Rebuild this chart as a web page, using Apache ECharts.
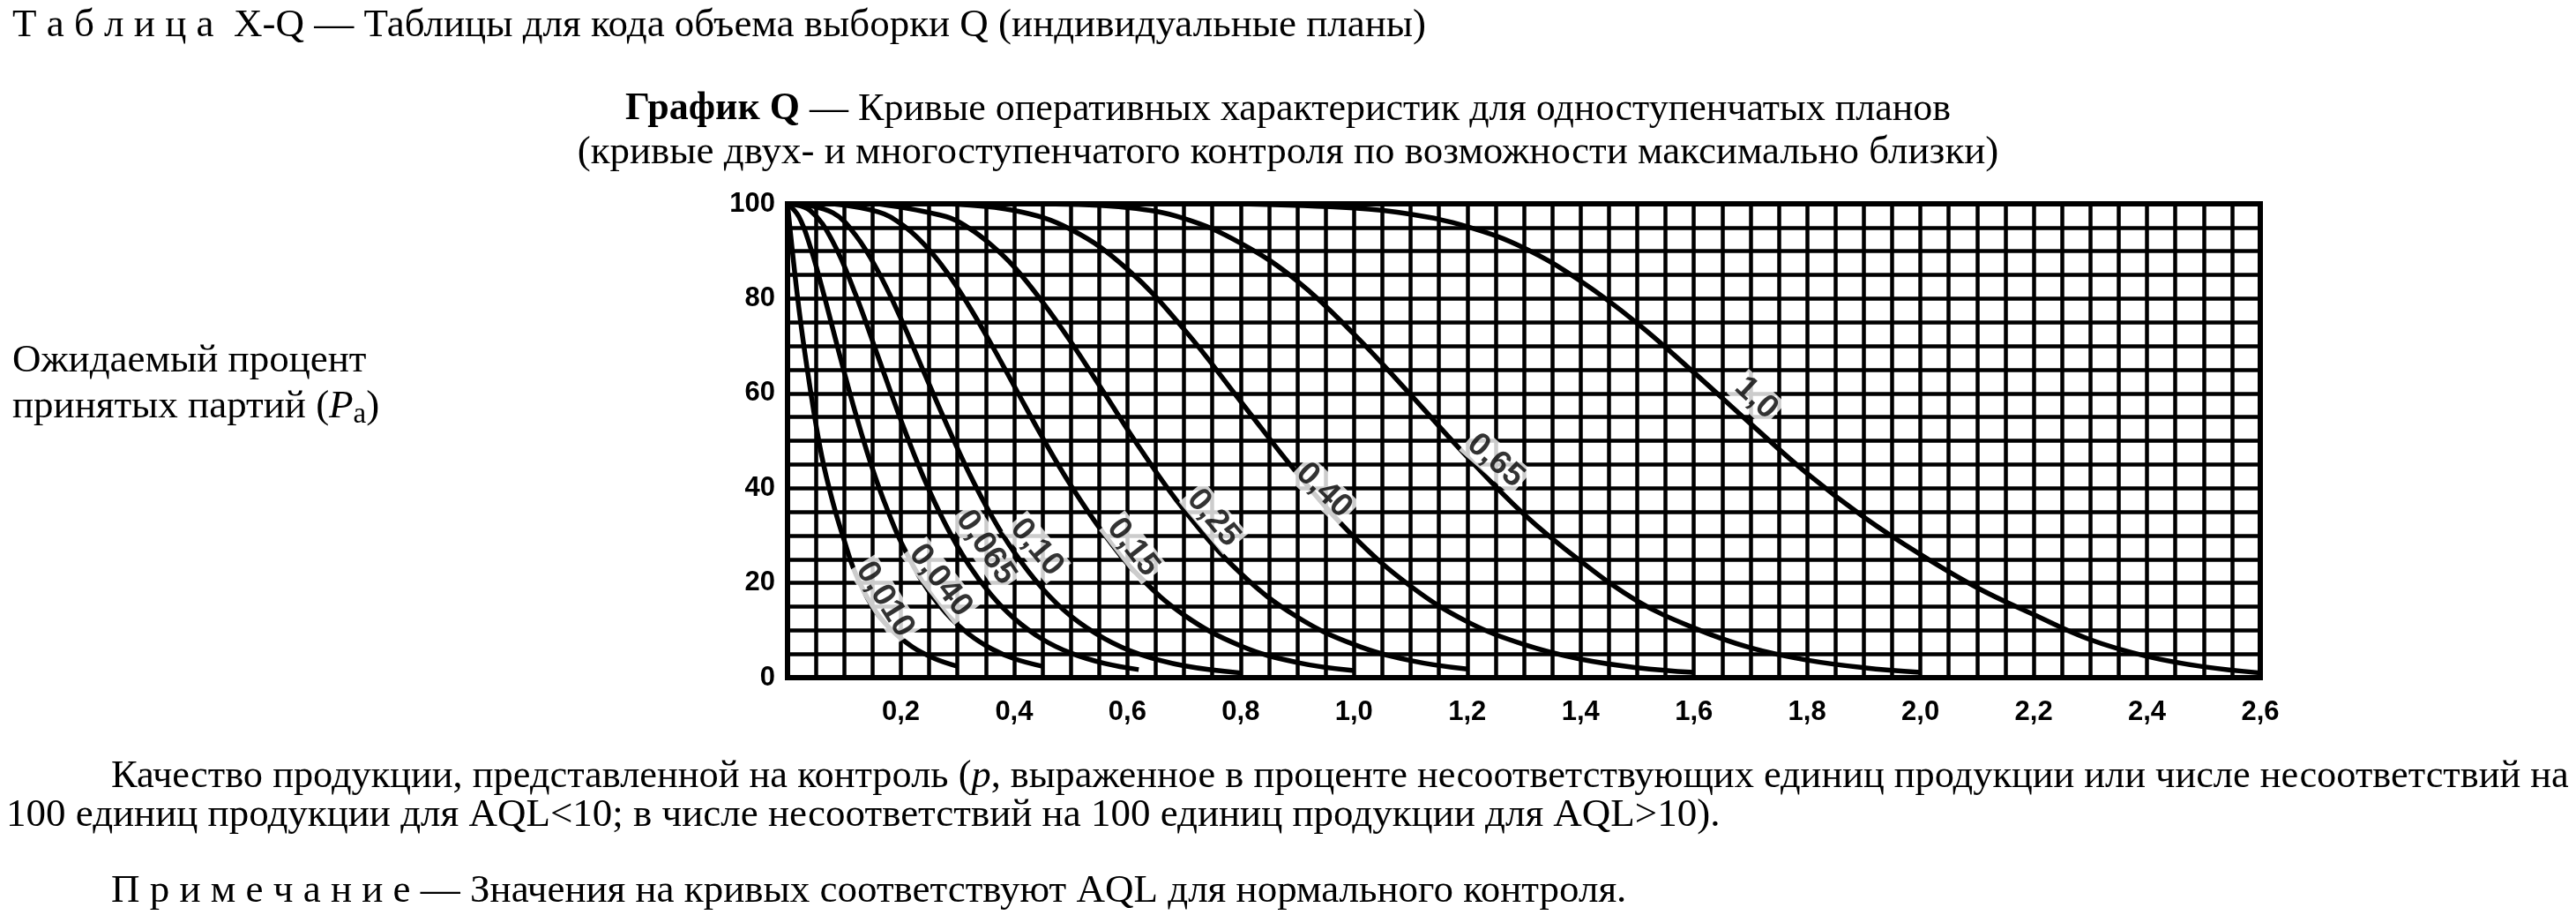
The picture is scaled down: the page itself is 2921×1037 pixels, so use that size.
<!DOCTYPE html>
<html>
<head>
<meta charset="utf-8">
<script src="https://cdn.jsdelivr.net/npm/echarts@6/dist/echarts.min.js"></script>
<style>
html,body{margin:0;padding:0;background:#fff;}
#chart{width:2921px;height:1037px;}
</style>
</head>
<body>
<div id="chart"></div>
<script>
// ---- Data (p in %, Pa in %) ----
const xTickLabels = ['0,2','0,4','0,6','0,8','1,0','1,2','1,4','1,6','1,8','2,0','2,2','2,4','2,6'];
const yTickLabels = ['0','20','40','60','80','100'];
const aqlNames = ['0,010','0,040','0,065','0,10','0,15','0,25','0,40','0,65','1,0'];

const curve0010 = [[0,100],[0.02,78],[0.04,61],[0.06,47],[0.08,37],[0.10,29],[0.12,22],[0.15,15],[0.18,10.5],[0.22,6.5],[0.26,4],[0.30,2.4]];
const curve0040 = [[0,100],[0.02,97.3],[0.04,91],[0.06,82.7],[0.08,73.6],[0.10,64.5],[0.12,55.8],[0.14,47.8],[0.16,40.6],[0.18,34.3],[0.20,28.7],[0.24,19.9],[0.28,13.6],[0.32,9.2],[0.36,6.1],[0.40,4],[0.45,2.4]];
const curve0065 = [[0,100],[0.04,98.6],[0.08,92],[0.12,80.9],[0.16,67.7],[0.20,54.4],[0.24,42.3],[0.28,32.1],[0.32,23.8],[0.36,17.4],[0.40,12.5],[0.45,8.1],[0.50,5.2],[0.56,3.0],[0.62,1.7]];
const curve010 = [[0.02,100],[0.08,98.1],[0.12,93.4],[0.16,85.7],[0.20,75.8],[0.24,64.7],[0.28,53.7],[0.32,43.3],[0.36,34.2],[0.40,26.5],[0.45,18.8],[0.50,13],[0.56,8.2],[0.62,5],[0.70,2.5],[0.80,1]];
const curve015 = [[0.08,100],[0.16,98.3],[0.20,95.8],[0.24,91.6],[0.28,85.8],[0.32,78.5],[0.36,70.3],[0.40,61.6],[0.45,50.7],[0.50,40.6],[0.56,30.1],[0.62,21.5],[0.70,13.2],[0.80,6.7],[0.90,3.2],[1.00,1.5]];
const curve025 = [[0.16,100],[0.28,97.3],[0.32,94.9],[0.36,91.3],[0.40,86.7],[0.45,79.3],[0.50,70.9],[0.56,59.9],[0.62,48.8],[0.70,35.4],[0.80,22],[0.90,12.8],[1.00,7],[1.10,3.6],[1.20,1.8]];
const curve040 = [[0.28,100],[0.40,98.6],[0.50,94.6],[0.60,86.2],[0.70,73.5],[0.80,58.3],[0.90,43.1],[1.00,29.7],[1.10,19.3],[1.20,11.8],[1.30,7],[1.40,3.9],[1.50,2.1],[1.60,1.1]];
const curve065 = [[0.45,100],[0.60,99.2],[0.70,96.9],[0.80,91.7],[0.90,83.7],[1.00,72.5],[1.10,59.7],[1.20,46.6],[1.30,34.5],[1.40,24.6],[1.50,16.2],[1.60,10.5],[1.70,6.3],[1.80,3.7],[1.90,2.1],[2.00,1.1]];
const curve10 = [[0.80,100],[1.00,99.1],[1.10,97.8],[1.20,95.2],[1.30,90.7],[1.40,83.7],[1.50,74.8],[1.60,64.4],[1.70,53.6],[1.80,43.1],[1.90,33.9],[2.00,26],[2.10,19],[2.20,13.3],[2.30,8],[2.40,4.5],[2.50,2.3],[2.60,1]];

// label anchor [p, Pa] and text angle
const labelAnchors = [[0.172,16.5],[0.27,20.5],[0.35,27.5],[0.44,27.5],[0.61,27.5],[0.752,33.7],[0.947,39.5],[1.25,45.8],[1.71,59]];
const labelAngles = [-58,-52,-56,-50,-52,-50,-44,-41,-43];

const curves = [curve0010,curve0040,curve0065,curve010,curve015,curve025,curve040,curve065,curve10];

const FONT_SERIF = '"Liberation Serif","Times New Roman",serif';
const FONT_NARROW = '"Liberation Sans Narrow","Arial Narrow","Liberation Sans",sans-serif';

const chart = echarts.init(document.getElementById('chart'));

const lineSeries = curves.map((d, i) => ({
  name: aqlNames[i],
  type: 'line',
  data: d,
  smooth: 0.4,
  showSymbol: false,
  symbol: 'none',
  lineStyle: { color: '#000', width: 5.5 },
  z: 3,
  silent: true
}));

const labelSeries = {
  type: 'scatter',
  symbolSize: 0,
  z: 5,
  silent: true,
  data: labelAnchors.map((a, i) => ({
    value: a,
    label: {
      show: true,
      formatter: aqlNames[i],
      rotate: labelAngles[i],
      position: 'inside',
      color: '#000',
      fontFamily: FONT_NARROW,
      fontWeight: 'bold',
      fontSize: 37,
      backgroundColor: '#fff',
      padding: [0, 3]
    }
  }))
};

const xLabelSet = new Set(xTickLabels);
const yLabelSet = new Set(yTickLabels);

chart.setOption({
  animation: false,
  backgroundColor: '#fff',
  title: [
    {
      text: 'Т а б л и ц а  X-Q — Таблицы для кода объема выборки Q (индивидуальные планы)',
      left: 9, top: 2,
      textStyle: { fontFamily: FONT_SERIF, fontSize: 45, fontWeight: 'normal', color: '#000' }
    },
    {
      text: '{b|График Q} — Кривые оперативных характеристик для одноступенчатых планов',
      left: 'center', top: 97,
      textStyle: { fontFamily: FONT_SERIF, fontSize: 44, fontWeight: 'normal', color: '#000',
        rich: { b: { fontFamily: FONT_SERIF, fontSize: 44, fontWeight: 'bold', color: '#000' } } }
    },
    {
      text: '(кривые двух- и многоступенчатого контроля по возможности максимально близки)',
      left: 'center', top: 146,
      textStyle: { fontFamily: FONT_SERIF, fontSize: 45, fontWeight: 'normal', color: '#000' }
    },
    {
      text: 'Ожидаемый процент\nпринятых партий ({i|P}{s|a})',
      left: 9, top: 378,
      textStyle: { fontFamily: FONT_SERIF, fontSize: 45, lineHeight: 52, fontWeight: 'normal', color: '#000',
        rich: {
          i: { fontFamily: FONT_SERIF, fontSize: 45, fontStyle: 'italic', color: '#000', lineHeight: 52 },
          s: { fontFamily: FONT_SERIF, fontSize: 33, color: '#000', lineHeight: 44, verticalAlign: 'bottom' }
        } }
    },
    {
      text: 'Качество продукции, представленной на контроль ({i|p}, выраженное в проценте несоответствующих единиц продукции или числе несоответствий на',
      left: 121, top: 853,
      textStyle: { fontFamily: FONT_SERIF, fontSize: 44.4, fontWeight: 'normal', color: '#000',
        rich: { i: { fontFamily: FONT_SERIF, fontSize: 44.4, fontStyle: 'italic', color: '#000' } } }
    },
    {
      text: '100 единиц продукции для AQL<10; в числе несоответствий на 100 единиц продукции для AQL>10).',
      left: 2, top: 897,
      textStyle: { fontFamily: FONT_SERIF, fontSize: 45, fontWeight: 'normal', color: '#000' }
    },
    {
      text: 'П р и м е ч а н и е — Значения на кривых соответствуют AQL для нормального контроля.',
      left: 121, top: 983,
      textStyle: { fontFamily: FONT_SERIF, fontSize: 45, fontWeight: 'normal', color: '#000' }
    }
  ],
  grid: {
    left: 893, right: 358, top: 231, bottom: 269,
    show: true, borderColor: '#000', borderWidth: 6, backgroundColor: 'transparent'
  },
  xAxis: {
    type: 'value', min: 0, max: 2.6, interval: 0.05,
    axisLine: { show: true, lineStyle: { color: '#000', width: 6 } },
    axisTick: { show: false },
    splitLine: { show: true, lineStyle: { color: '#000', width: 4.5 } },
    axisLabel: {
      margin: 24,
      color: '#000', fontFamily: FONT_NARROW, fontWeight: 'bold', fontSize: 31,
      formatter: v => {
        const s = (Math.round(v * 100) / 100).toFixed(1).replace('.', ',');
        const k = Math.round(v * 100);
        return (k % 20 === 0 && xLabelSet.has(s)) ? s : '';
      }
    }
  },
  yAxis: {
    type: 'value', min: 0, max: 100, interval: 5,
    axisLine: { show: true, lineStyle: { color: '#000', width: 6 } },
    axisTick: { show: false },
    splitLine: { show: true, lineStyle: { color: '#000', width: 4.5 } },
    axisLabel: {
      margin: 14,
      color: '#000', fontFamily: FONT_NARROW, fontWeight: 'bold', fontSize: 31,
      formatter: v => { const s = String(Math.round(v)); return yLabelSet.has(s) ? s : ''; }
    }
  },
  series: lineSeries.concat([labelSeries])
});
</script>
</body>
</html>
